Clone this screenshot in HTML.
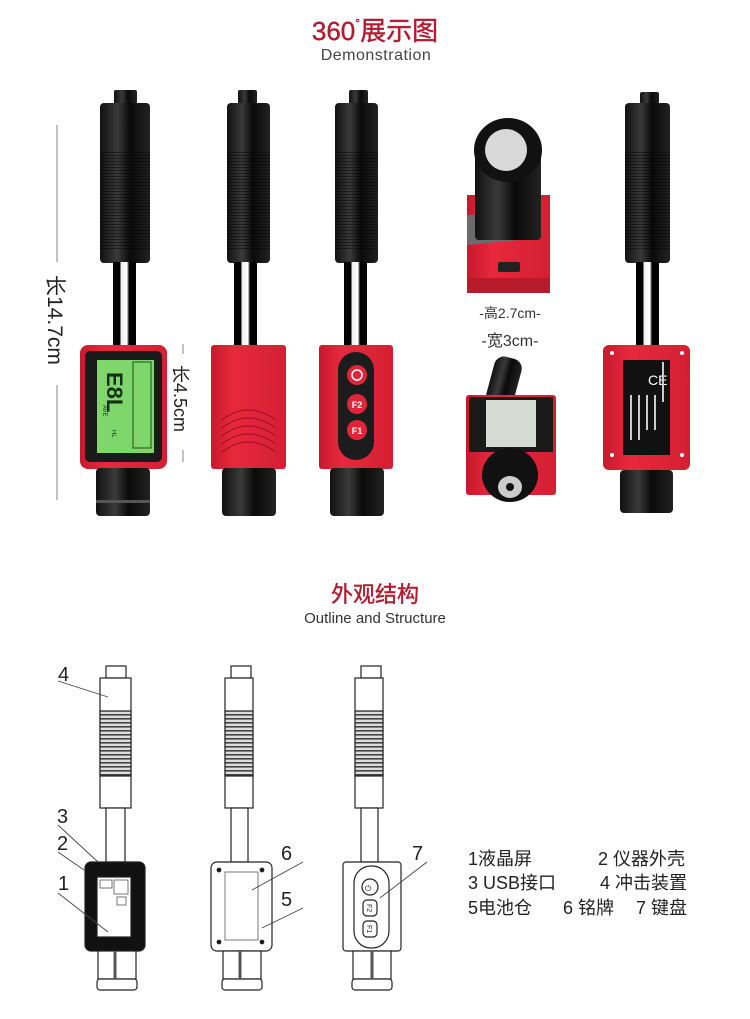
<!DOCTYPE html>
<html><head><meta charset="utf-8"><style>
html,body{margin:0;padding:0;background:#fff;width:750px;height:1019px;overflow:hidden}
svg{display:block}
text{font-family:"Liberation Sans","Noto Sans CJK SC",sans-serif}
</style></head><body>
<svg width="750" height="1019" viewBox="0 0 750 1019" xmlns="http://www.w3.org/2000/svg">
<defs>
<linearGradient id="blk" x1="0" x2="1"><stop offset="0" stop-color="#111"/><stop offset=".35" stop-color="#3a3a3a"/><stop offset=".6" stop-color="#0a0a0a"/><stop offset="1" stop-color="#222"/></linearGradient>
<linearGradient id="red" x1="0" x2="1"><stop offset="0" stop-color="#c51a2c"/><stop offset=".3" stop-color="#e8283d"/><stop offset="1" stop-color="#d41f33"/></linearGradient>
<linearGradient id="rod" x1="0" x2="1"><stop offset="0" stop-color="#000"/><stop offset=".3" stop-color="#000"/><stop offset=".35" stop-color="#eee"/><stop offset=".6" stop-color="#fff"/><stop offset=".7" stop-color="#000"/><stop offset="1" stop-color="#000"/></linearGradient>
<pattern id="rib" width="4" height="3" patternUnits="userSpaceOnUse"><rect width="4" height="3" fill="none"/><rect y="2" width="4" height="1" fill="#000" opacity=".45"/></pattern>
<pattern id="lrib" width="4" height="4" patternUnits="userSpaceOnUse"><rect width="4" height="4" fill="#ddd"/><rect y="2" width="4" height="1.6" fill="#444"/></pattern>
</defs>

<!-- Title 1 -->
<text x="375" y="40" text-anchor="middle" font-size="26" fill="#b31b2f" stroke="#b31b2f" stroke-width="0.4">360<tspan font-size="12" dy="-13">°</tspan><tspan dy="13">展示图</tspan></text>
<text x="376" y="60" text-anchor="middle" font-size="16" fill="#444" letter-spacing="0.5">Demonstration</text>

<!-- Device 1 -->
<g>
<rect x="114" y="90" width="23" height="14" rx="2" fill="url(#blk)"/>
<rect x="100" y="103" width="50" height="160" rx="4" fill="url(#blk)"/>
<rect x="100" y="150" width="50" height="100" fill="url(#rib)"/>
<rect x="113" y="262" width="23" height="84" fill="url(#rod)"/>
<rect x="80" y="345" width="87" height="124" rx="8" fill="url(#red)"/>
<rect x="85" y="351" width="77" height="111" rx="5" fill="#1a1a1a"/>
<rect x="97" y="360" width="57" height="93" fill="#7fd66a"/>
<rect x="133" y="362" width="18" height="86" fill="none" stroke="#1e4a1e" stroke-width="1"/>
<text transform="translate(107,372) rotate(90)" font-size="22" fill="#143014" font-weight="bold">E8L</text>
<text transform="translate(103,405) rotate(90)" font-size="6" fill="#143014">AVE</text>
<text transform="translate(112,430) rotate(90)" font-size="6" fill="#143014">HL</text>
<rect x="96" y="468" width="54" height="48" rx="4" fill="url(#blk)"/>
<rect x="96" y="500" width="54" height="3" fill="#555"/>
</g>
<line x1="57" y1="125" x2="57" y2="262" stroke="#999" stroke-width="1.2"/>
<line x1="57" y1="385" x2="57" y2="500" stroke="#999" stroke-width="1.2"/>
<text transform="translate(48,275) rotate(90)" font-size="21" fill="#222">长14.7cm</text>
<line x1="183" y1="344" x2="183" y2="354" stroke="#999" stroke-width="1.2"/>
<line x1="183" y1="450" x2="183" y2="462" stroke="#999" stroke-width="1.2"/>
<text transform="translate(174,365) rotate(90)" font-size="18" fill="#222">长4.5cm</text>

<!-- Device 2 -->
<g>
<rect x="238" y="90" width="19" height="14" rx="2" fill="url(#blk)"/>
<rect x="227" y="103" width="43" height="160" rx="4" fill="url(#blk)"/>
<rect x="227" y="150" width="43" height="100" fill="url(#rib)"/>
<rect x="234" y="262" width="23" height="84" fill="url(#rod)"/>
<rect x="211" y="345" width="75" height="124" rx="3" fill="url(#red)"/>
<path d="M222 420 Q248 400 276 420 M222 428 Q248 408 276 428 M222 436 Q248 416 276 436 M222 444 Q248 424 276 444 M222 452 Q248 432 276 452" stroke="#a81424" fill="none" stroke-width="1.2"/>
<rect x="222" y="468" width="54" height="48" rx="4" fill="url(#blk)"/>
</g>

<!-- Device 3 -->
<g>
<rect x="349" y="90" width="19" height="14" rx="2" fill="url(#blk)"/>
<rect x="335" y="103" width="43" height="160" rx="4" fill="url(#blk)"/>
<rect x="335" y="150" width="43" height="100" fill="url(#rib)"/>
<rect x="344" y="262" width="23" height="84" fill="url(#rod)"/>
<rect x="319" y="345" width="74" height="124" rx="3" fill="url(#red)"/>
<rect x="338" y="352" width="36" height="108" rx="18" fill="#1c1c1c"/>
<circle cx="357" cy="375" r="10" fill="#e0253a"/>
<circle cx="357" cy="375" r="5" fill="none" stroke="#fff" stroke-width="1.5"/>
<circle cx="357" cy="404" r="10" fill="#e0253a"/><text x="357" y="408" font-size="9" text-anchor="middle" fill="#fff" font-weight="bold">F2</text>
<circle cx="357" cy="430" r="10" fill="#e0253a"/><text x="357" y="434" font-size="9" text-anchor="middle" fill="#fff" font-weight="bold">F1</text>
<rect x="330" y="468" width="54" height="48" rx="4" fill="url(#blk)"/>
</g>

<!-- Device 4 top view -->
<g>
<rect x="467" y="195" width="83" height="98" fill="url(#red)"/>
<rect x="467" y="278" width="83" height="15" fill="#b71a2b"/>
<polygon points="467,215 520,212 520,240 467,245" fill="#6b6b6b"/>
<rect x="475" y="140" width="66" height="100" rx="4" fill="url(#blk)"/>
<ellipse cx="508" cy="150" rx="34" ry="32" fill="#111"/>
<ellipse cx="506" cy="150" rx="21" ry="21" fill="#d8d8d8"/>
<rect x="498" y="262" width="22" height="10" rx="2" fill="#222"/>
</g>
<text x="510" y="318" text-anchor="middle" font-size="14" fill="#333">-高2.7cm-</text>
<text x="510" y="346" text-anchor="middle" font-size="16" fill="#333">-宽3cm-</text>

<!-- Device 5 -->
<g>
<rect x="490" y="357" width="28" height="50" rx="10" fill="url(#blk)" transform="rotate(15 504 382)"/>
<rect x="466" y="395" width="90" height="100" rx="3" fill="url(#red)"/>
<rect x="469" y="397" width="84" height="55" fill="#1a1a1a"/>
<rect x="486" y="400" width="50" height="47" fill="#d6dcd4"/>
<ellipse cx="510" cy="475" rx="28" ry="27" fill="#111"/>
<ellipse cx="510" cy="487" rx="12" ry="11" fill="#ccc"/>
<circle cx="510" cy="487" r="4" fill="#111"/>
</g>

<!-- Device 6 -->
<g>
<rect x="640" y="92" width="19" height="12" rx="2" fill="url(#blk)"/>
<rect x="625" y="103" width="45" height="160" rx="4" fill="url(#blk)"/>
<rect x="625" y="150" width="45" height="100" fill="url(#rib)"/>
<rect x="636" y="262" width="23" height="84" fill="url(#rod)"/>
<rect x="603" y="345" width="87" height="125" rx="6" fill="url(#red)"/>
<rect x="623" y="360" width="47" height="95" fill="#111"/>
<text x="648" y="385" font-size="14" fill="#fff">CE</text>
<g fill="#ccc"><rect x="630" y="395" width="2" height="45"/><rect x="638" y="395" width="2" height="45"/><rect x="646" y="395" width="2" height="35"/><rect x="654" y="395" width="2" height="35"/><rect x="662" y="362" width="2" height="40"/></g>
<circle cx="612" cy="353" r="2" fill="#fff"/><circle cx="682" cy="353" r="2" fill="#fff"/><circle cx="612" cy="455" r="2" fill="#fff"/><circle cx="682" cy="455" r="2" fill="#fff"/>
<rect x="620" y="470" width="53" height="43" rx="4" fill="url(#blk)"/>
</g>

<!-- Title 2 -->
<text x="375" y="602" text-anchor="middle" font-size="22" fill="#b31b2f" stroke="#b31b2f" stroke-width="0.4">外观结构</text>
<text x="375" y="623" text-anchor="middle" font-size="15" fill="#333">Outline and Structure</text>

<!-- Line drawings -->
<g stroke="#222" stroke-width="1.2" fill="#fff">
<!-- a -->
<rect x="106" y="666" width="20" height="12"/>
<rect x="100" y="678" width="31" height="130"/>
<rect x="100" y="711" width="31" height="65" fill="url(#lrib)"/>
<rect x="106" y="808" width="19" height="54"/>
<rect x="85" y="862" width="60" height="89" rx="6" fill="#111"/>
<rect x="97" y="877" width="34" height="60" fill="#fff"/>
<rect x="98" y="951" width="38" height="28"/>
<rect x="97" y="979" width="40" height="11" rx="3"/>
<!-- b -->
<rect x="231" y="666" width="20" height="12"/>
<rect x="225" y="678" width="28" height="130"/>
<rect x="225" y="711" width="28" height="65" fill="url(#lrib)"/>
<rect x="231" y="808" width="17" height="54"/>
<rect x="211" y="862" width="61" height="89" rx="6"/>
<rect x="225" y="872" width="33" height="68" stroke-width="0.6"/>
<rect x="223" y="951" width="38" height="28"/>
<rect x="222" y="979" width="40" height="11" rx="3"/>
<!-- c -->
<rect x="361" y="666" width="20" height="12"/>
<rect x="355" y="678" width="28" height="130"/>
<rect x="355" y="711" width="28" height="65" fill="url(#lrib)"/>
<rect x="361" y="808" width="17" height="54"/>
<rect x="343" y="862" width="58" height="89" rx="3"/>
<rect x="354" y="866" width="35" height="82" rx="17"/>
<circle cx="370" cy="887" r="8"/>
<rect x="363" y="900" width="14" height="16" rx="4"/>
<rect x="363" y="921" width="14" height="16" rx="4"/>
<rect x="353" y="951" width="38" height="28"/>
<rect x="352" y="979" width="40" height="11" rx="3"/>
</g>
<g stroke="#555" stroke-width="0.8" fill="none">
<rect x="100" y="880" width="12" height="8"/><rect x="114" y="880" width="14" height="14"/><rect x="117" y="897" width="9" height="8"/>
<line x1="115" y1="951" x2="115" y2="979" stroke-width="3"/><line x1="240" y1="951" x2="240" y2="979" stroke-width="3"/><line x1="372" y1="951" x2="372" y2="979" stroke-width="3"/>
</g>
<g stroke="#333" stroke-width="0.8" fill="#111">
<circle cx="219" cy="870" r="2"/><circle cx="262" cy="870" r="2"/><circle cx="219" cy="942" r="2"/><circle cx="262" cy="942" r="2"/>
</g>
<text x="365" y="891" font-size="8" fill="#222">⏻</text>
<text transform="translate(367,904) rotate(90)" font-size="7" fill="#222">F2</text>
<text transform="translate(367,925) rotate(90)" font-size="7" fill="#222">F1</text>
<!-- leaders -->
<g stroke="#444" stroke-width="0.9">
<line x1="58" y1="681" x2="108" y2="697"/>
<line x1="58" y1="825" x2="98" y2="862"/>
<line x1="58" y1="852" x2="84" y2="870"/>
<line x1="58" y1="893" x2="108" y2="932"/>
<line x1="303" y1="862" x2="252" y2="890"/>
<line x1="303" y1="908" x2="262" y2="928"/>
<line x1="427" y1="862" x2="380" y2="898"/>
</g>
<g font-size="20" fill="#222">
<text x="58" y="681">4</text>
<text x="57" y="823">3</text>
<text x="57" y="850">2</text>
<text x="58" y="890">1</text>
<text x="281" y="860">6</text>
<text x="281" y="906">5</text>
<text x="412" y="860">7</text>
</g>
<g font-size="18" fill="#222">
<text x="468" y="865">1液晶屏</text><text x="598" y="865">2 仪器外壳</text>
<text x="468" y="889">3 USB接口</text><text x="600" y="889">4 冲击装置</text>
<text x="468" y="914">5电池仓</text><text x="563" y="914">6 铭牌</text><text x="636" y="914">7 键盘</text>
</g>
</svg>
</body></html>
